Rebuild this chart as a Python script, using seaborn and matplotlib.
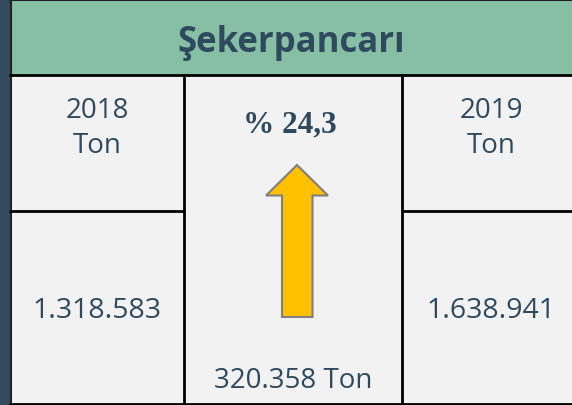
import matplotlib.pyplot as plt
import matplotlib.patches as mpatches
import seaborn as sns

# Veriler
urun = "Şekerpancarı"
yillar = ["2018", "2019"]
uretim = ["1.318.583", "1.638.941"]
birim = "Ton"
degisim_yuzde = "% 24,3"
degisim_miktar = "320.358 Ton"

sns.set_theme(style="white")
plt.rcParams['font.family'] = ['Open Sans', 'DejaVu Sans']

YESIL = "#86BFA3"
GRI = "#F2F2F2"
KOYU = "#344A5E"
YAZI = "#2F4A5F"

fig = plt.figure(figsize=(5.72, 4.06), dpi=100)
ax = fig.add_axes([0, 0, 1, 1])
ax.set_xlim(0, 572)
ax.set_ylim(406, 0)
ax.axis("off")

# sol koyu şerit
ax.add_patch(mpatches.Rectangle((0, 0), 9.5, 406, color=KOYU, lw=0))
# başlık
ax.add_patch(mpatches.Rectangle((10, 0), 562, 76, facecolor=YESIL, edgecolor="none"))
# hücreler
ax.add_patch(mpatches.Rectangle((10, 76), 562, 329, facecolor=GRI, edgecolor="none"))

# çizgiler
lw = 2.0
ax.plot([10, 572], [1, 1], color="#222222", lw=1.5)
ax.plot([10.5, 10.5], [0, 406], color="#222222", lw=1.5)
ax.plot([10, 572], [76, 76], color="black", lw=lw)
ax.plot([10, 572], [404.5, 404.5], color="black", lw=lw)
ax.plot([184, 184], [76, 406], color="black", lw=lw)
ax.plot([402, 402], [76, 406], color="black", lw=lw)
ax.plot([10, 184], [211.5, 211.5], color="black", lw=lw)
ax.plot([402, 572], [211.5, 211.5], color="black", lw=lw)

ax.text(291, 43, urun, ha="center", va="center", fontsize=25,
        fontweight="bold", color=YAZI)

sol_x = [97, 491]
for x, yil, deger in zip(sol_x, yillar, uretim):
    ax.text(x, 110.5, yil, ha="center", va="center", fontsize=20, color=YAZI)
    ax.text(x, 146.5, birim, ha="center", va="center", fontsize=20, color=YAZI)
    ax.text(x, 311.5, deger, ha="center", va="center", fontsize=20.5, color=YAZI)

ax.text(290, 125, degisim_yuzde, ha="center", va="center", fontsize=22.5,
        fontweight="bold", color=YAZI, family=["Liberation Serif"])

# yukarı ok
ok = [(282, 318), (312.5, 318), (312.5, 196.5), (328, 196.5),
      (297, 166), (266, 196.5), (282, 196.5)]
ax.add_patch(mpatches.Polygon(ok, closed=True, facecolor="#FFC000",
                              edgecolor="#7F7F7F", lw=1.5))

ax.text(293, 381.5, degisim_miktar, ha="center", va="center", fontsize=20,
        color=YAZI)

fig.savefig("out.png", dpi=100)
